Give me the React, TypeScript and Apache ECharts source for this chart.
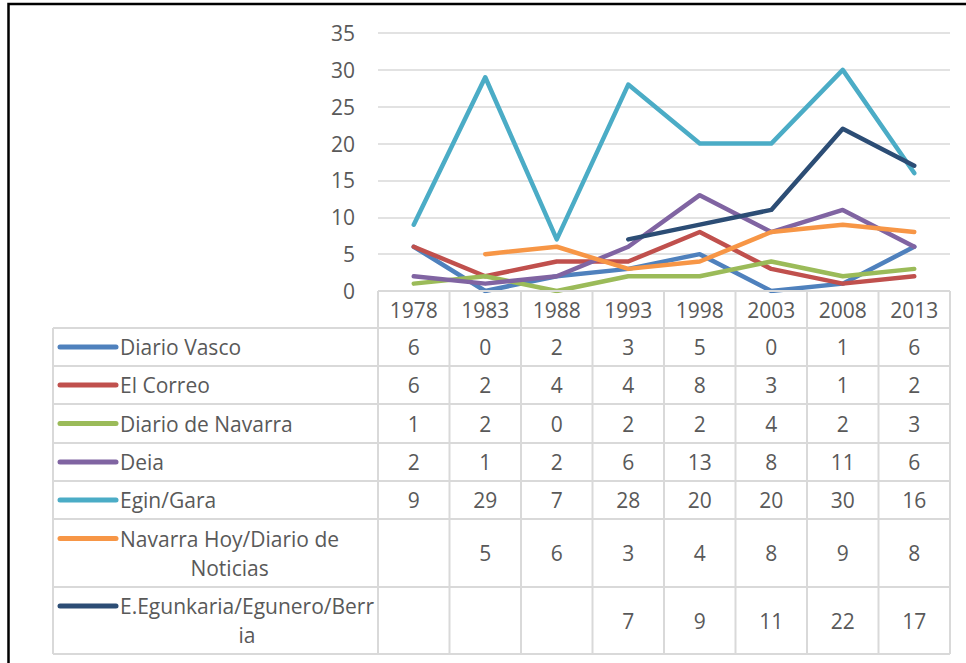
import React, { useEffect, useRef } from "react";
import * as echarts from "echarts";

const years = ["1978", "1983", "1988", "1993", "1998", "2003", "2008", "2013"];
const diarioVasco = [6, 0, 2, 3, 5, 0, 1, 6];
const elCorreo = [6, 2, 4, 4, 8, 3, 1, 2];
const diarioNavarra = [1, 2, 0, 2, 2, 4, 2, 3];
const deia = [2, 1, 2, 6, 13, 8, 11, 6];
const eginGara = [9, 29, 7, 28, 20, 20, 30, 16];
const navarraHoy = [null, 5, 6, 3, 4, 8, 9, 8];
const egunkaria = [null, null, null, 7, 9, 11, 22, 17];

const seriesNames = [
  "Diario Vasco",
  "El Correo",
  "Diario de Navarra",
  "Deia",
  "Egin/Gara",
  "Navarra Hoy/Diario de Noticias",
  "E.Egunkaria/Egunero/Berria",
];
const labelLines = [
  ["Diario Vasco"],
  ["El Correo"],
  ["Diario de Navarra"],
  ["Deia"],
  ["Egin/Gara"],
  ["Navarra Hoy/Diario de", "Noticias"],
  ["E.Egunkaria/Egunero/Berr", "ia"],
];
const seriesValues = [diarioVasco, elCorreo, diarioNavarra, deia, eginGara, navarraHoy, egunkaria];
const colors = ["#4F81BD", "#C0504D", "#9BBB59", "#8064A2", "#4BACC6", "#F79646", "#2C4D75"];
const yTicks = { min: 0, max: 35, interval: 5 };

// layout
const W = 966;
const H = 663;
const PLOT_L = 378;
const PLOT_R = 950;
const PLOT_T = 33;
const PLOT_B = 291;
const HEADER_B = 328;
const ROW_BOUNDS = [328, 366, 404, 443, 481, 519, 587, 654];
const TABLE_L = 53;
const SAMPLE_X0 = 60;
const SAMPLE_X1 = 116;
const LABEL_X = 120;
const FONT_FAMILY = '"Open Sans", sans-serif';
const FONT_SIZE = 21;
const TEXT_COLOR = "#595959";
const BORDER = "#D9D9D9";
const LINE_H = 29;

function measure(text: string): number {
  const c = document.createElement("canvas").getContext("2d");
  if (!c) return text.length * 10;
  c.font = `${FONT_SIZE}px ${FONT_FAMILY}`;
  return c.measureText(text).width;
}

export default function App() {
  const ref = useRef<HTMLDivElement>(null);
  useEffect(() => {
    if (!ref.current) return;
    const chart = echarts.init(ref.current, undefined, { renderer: "svg" });
    const colW = (PLOT_R - PLOT_L) / years.length;
    const font = `${FONT_SIZE}px ${FONT_FAMILY}`;
    const graphics: any[] = [];

    // outer border
    graphics.push({
      type: "rect",
      silent: true,
      shape: { x: 8.5, y: 4, width: 980, height: 720 },
      style: { fill: "none", stroke: "#000", lineWidth: 2.5 },
    });

    const hline = (x1: number, x2: number, y: number) =>
      graphics.push({
        type: "line",
        silent: true,
        z: 5,
        shape: { x1, y1: y, x2, y2: y },
        style: { stroke: BORDER, lineWidth: 2 },
      });
    const vline = (x: number, y1: number, y2: number) =>
      graphics.push({
        type: "line",
        silent: true,
        z: 5,
        shape: { x1: x, y1, x2: x, y2 },
        style: { stroke: BORDER, lineWidth: 2 },
      });

    hline(PLOT_L, PLOT_R, PLOT_B);
    ROW_BOUNDS.forEach((y) => hline(TABLE_L, PLOT_R, y));
    vline(TABLE_L, HEADER_B, ROW_BOUNDS[ROW_BOUNDS.length - 1]);
    for (let k = 0; k <= years.length; k++) {
      vline(PLOT_L + colW * k, PLOT_B, ROW_BOUNDS[ROW_BOUNDS.length - 1]);
    }

    seriesValues.forEach((vals, r) => {
      const top = ROW_BOUNDS[r];
      const bot = ROW_BOUNDS[r + 1];
      const cy = (top + bot) / 2;
      const lines = labelLines[r];
      const firstY = cy - ((lines.length - 1) * LINE_H) / 2;
      graphics.push({
        type: "line",
        silent: true,
        z: 6,
        shape: { x1: SAMPLE_X0, y1: firstY, x2: SAMPLE_X1, y2: firstY },
        style: { stroke: colors[r], lineWidth: 5, lineCap: "round" },
      });
      if (lines.length === 1) {
        graphics.push({
          type: "text",
          silent: true,
          z: 6,
          x: LABEL_X,
          y: cy,
          style: { text: lines[0], font, fill: TEXT_COLOR, align: "left", verticalAlign: "middle" },
        });
      } else {
        const w = Math.max(...lines.map(measure));
        graphics.push({
          type: "text",
          silent: true,
          z: 6,
          x: LABEL_X + w / 2,
          y: cy,
          style: {
            text: lines.join("\n"),
            font,
            fill: TEXT_COLOR,
            align: "center",
            verticalAlign: "middle",
            lineHeight: LINE_H,
          },
        });
      }
      vals.forEach((v, i) => {
        if (v === null || v === undefined) return;
        graphics.push({
          type: "text",
          silent: true,
          z: 6,
          x: PLOT_L + colW * (i + 0.5),
          y: cy,
          style: { text: String(v), font, fill: TEXT_COLOR, align: "center", verticalAlign: "middle" },
        });
      });
    });

    chart.setOption({
      animation: false,
      backgroundColor: "#fff",
      grid: {
        left: PLOT_L,
        right: W - PLOT_R,
        top: PLOT_T,
        bottom: H - PLOT_B,
        containLabel: false,
      },
      xAxis: {
        type: "category",
        data: years,
        boundaryGap: true,
        axisLine: { show: false },
        axisTick: { show: false },
        axisLabel: {
          margin: 19,
          verticalAlign: "middle",
          fontFamily: FONT_FAMILY,
          fontSize: FONT_SIZE,
          color: TEXT_COLOR,
        },
        splitLine: { show: false },
      },
      yAxis: {
        type: "value",
        min: yTicks.min,
        max: yTicks.max,
        interval: yTicks.interval,
        axisLine: { show: false },
        axisTick: { show: false },
        axisLabel: {
          margin: 23,
          fontFamily: FONT_FAMILY,
          fontSize: FONT_SIZE,
          color: TEXT_COLOR,
        },
        splitLine: { lineStyle: { color: BORDER, width: 1.5 } },
      },
      series: seriesValues.map((vals, i) => ({
        name: seriesNames[i],
        type: "line",
        data: vals,
        symbol: "none",
        connectNulls: false,
        color: colors[i],
        lineStyle: { width: 4.5, color: colors[i], cap: "round", join: "round" },
        z: 3 + i * 0.01,
      })),
      graphic: graphics,
    });
    return () => chart.dispose();
  }, []);
  return (
    <div
      ref={ref}
      style={{ position: "fixed", left: 0, top: 0, width: W, height: H, background: "#fff" }}
    />
  );
}
